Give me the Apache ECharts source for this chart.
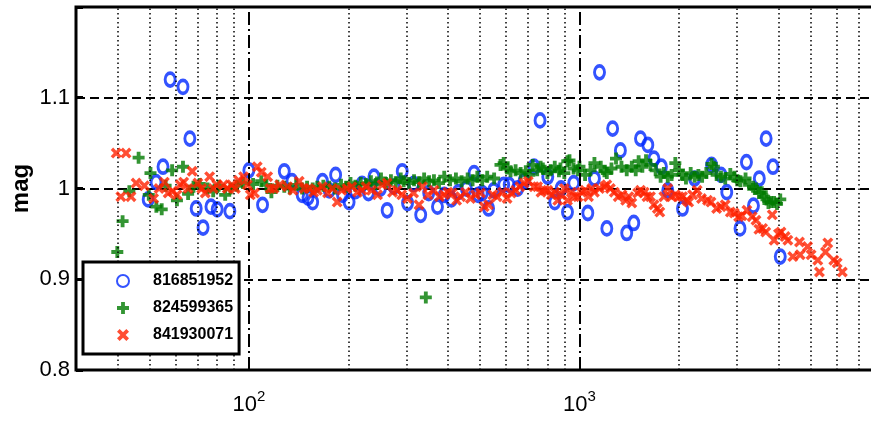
<!DOCTYPE html>
<html>
<head>
<meta charset="utf-8">
<script src="https://cdn.jsdelivr.net/npm/echarts@6/dist/echarts.min.js"></script>
<style>
html,body{margin:0;padding:0;overflow:hidden;background:#fff;}
#c{width:880px;height:422px;}
</style>
</head>
<body>
<div id="c"></div>
<script>
// ---- data ----
const seriesNames = ['816851952', '824599365', '841930071'];

const blueX = [49.6, 52.4, 55, 57.8, 63.2, 66.3, 69.3, 72.7, 76.8, 80.2, 87.6, 100, 110, 128, 135, 145, 151, 156, 167, 175, 183, 192, 201, 210, 220, 230, 239, 250, 262, 275, 291, 302, 315, 331, 350, 372, 390, 410, 430, 455, 480, 494, 508, 531, 550, 590, 613, 650, 680, 729, 760, 802, 842, 880, 920, 961, 1060, 1110, 1150, 1210, 1260, 1330, 1390, 1460, 1530, 1610, 1680, 1770, 1850, 2050, 2230, 2510, 2680, 2790, 3060, 3200, 3360, 3500, 3670, 3850, 4050];
const blueY = [0.988, 1.007, 1.024, 1.120, 1.112, 1.055, 0.978, 0.957, 0.980, 0.977, 0.975, 1.020, 0.982, 1.019, 1.008, 0.993, 0.990, 0.985, 1.008, 0.998, 1.015, 0.993, 0.985, 0.997, 1.005, 0.995, 1.013, 1.000, 0.976, 1.002, 1.019, 0.984, 1.005, 0.971, 0.995, 0.980, 0.993, 0.988, 0.996, 1.000, 1.017, 0.993, 0.995, 0.978, 0.998, 1.004, 1.004, 1.000, 1.008, 1.024, 1.075, 1.013, 0.985, 1.000, 0.974, 1.006, 0.973, 1.011, 1.128, 0.956, 1.066, 1.042, 0.951, 0.962, 1.055, 1.048, 1.033, 1.024, 0.998, 0.978, 1.011, 1.026, 1.015, 0.996, 0.956, 1.029, 0.981, 1.011, 1.055, 1.024, 0.925];

const greenX = [40, 41.5, 43.5, 46.4, 49.8, 50.4, 52.5, 54.5, 56, 58.6, 60.6, 63.2, 65.5, 68, 71, 75, 78, 81, 84.8, 88, 92, 96, 103, 109, 113, 117, 122, 128, 133, 139, 145, 150, 156, 161, 168, 175, 182, 190, 197, 203, 210, 218, 226, 234, 242, 251, 260, 269, 278, 288, 294, 305, 316, 327, 339, 343, 351, 363, 376, 390, 406, 423, 440, 459, 475, 491, 508, 526, 552, 577, 590, 604, 619, 641, 664, 688, 705, 722, 745, 763, 775, 800, 818, 842, 867, 876, 900, 919, 933, 960, 990, 1000, 1040, 1080, 1110, 1160, 1190, 1210, 1250, 1290, 1340, 1390, 1440, 1480, 1510, 1550, 1590, 1640, 1700, 1760, 1800, 1850, 1900, 1950, 2000, 2050, 2100, 2170, 2230, 2290, 2350, 2420, 2510, 2550, 2600, 2680, 2760, 2860, 2940, 3000, 3070, 3180, 3260, 3350, 3420, 3490, 3560, 3620, 3680, 3730, 3800, 3880, 3960, 4050];
const greenY = [0.930, 0.964, 0.997, 1.034, 0.993, 1.017, 0.980, 0.977, 1.003, 1.020, 0.987, 1.024, 0.994, 1.002, 1.005, 1.000, 0.997, 1.003, 0.993, 1.000, 1.003, 1.006, 1.005, 1.008, 1.004, 0.996, 1.003, 1.002, 1.000, 1.004, 1.000, 1.002, 1.000, 1.002, 1.003, 1.002, 1.000, 1.004, 1.002, 1.006, 1.003, 1.006, 1.005, 1.008, 1.005, 1.011, 1.006, 1.009, 1.007, 1.011, 1.008, 1.006, 1.009, 1.007, 1.011, 0.880, 1.008, 1.009, 1.006, 1.013, 1.009, 1.011, 1.008, 1.011, 1.009, 1.013, 1.009, 1.013, 1.011, 1.026, 1.028, 1.022, 1.019, 1.020, 1.017, 1.019, 1.015, 1.026, 1.020, 1.024, 1.022, 1.017, 1.020, 1.024, 1.019, 1.022, 1.017, 1.030, 1.031, 1.022, 1.020, 1.024, 1.015, 1.020, 1.028, 1.024, 1.019, 1.017, 1.022, 1.033, 1.024, 1.020, 1.024, 1.020, 1.030, 1.024, 1.031, 1.026, 1.020, 1.013, 1.017, 1.013, 1.015, 1.028, 1.020, 1.015, 1.011, 1.017, 1.013, 1.015, 1.013, 1.017, 1.027, 1.024, 1.015, 1.013, 1.011, 1.016, 1.013, 1.009, 1.008, 1.011, 1.004, 1.002, 1.000, 0.995, 0.996, 0.991, 0.988, 0.984, 0.985, 0.985, 0.983, 0.988];

const redX = [39.7, 41, 42.5, 44, 45.6, 48.3, 51.5, 53.5, 55.5, 57, 58.7, 60.6, 62, 63.5, 65.5, 67.4, 70.1, 72, 73.8, 76.1, 78, 80, 83.8, 86, 88.8, 91, 93.1, 96.4, 99, 101, 104, 106, 109, 114, 116, 119, 124, 131, 136, 142, 147, 152, 157, 161, 167, 173, 179, 185, 191, 198, 205, 213, 220, 226, 235, 245, 253, 262, 272, 281, 290, 302, 315, 327, 335, 348, 363, 377, 390, 400, 412, 425, 437, 452, 468, 485, 502, 515, 531, 547, 563, 585, 604, 622, 641, 660, 680, 700, 729, 747, 765, 783, 802, 822, 842, 860, 880, 900, 920, 945, 966, 990, 1015, 1040, 1065, 1090, 1110, 1150, 1190, 1210, 1240, 1275, 1310, 1345, 1380, 1410, 1440, 1500, 1530, 1570, 1600, 1640, 1680, 1720, 1750, 1800, 1850, 1900, 1950, 2000, 2050, 2110, 2140, 2200, 2270, 2340, 2440, 2500, 2600, 2680, 2760, 2860, 2940, 3030, 3100, 3210, 3330, 3420, 3490, 3580, 3660, 3830, 3880, 4000, 4070, 4190, 4270, 4420, 4630, 4650, 4900, 5020, 5260, 5320, 5550, 5640, 5880, 6020, 6240];
const redY = [1.039, 0.991, 1.039, 0.991, 1.006, 1.003, 0.989, 1.000, 1.007, 0.995, 0.997, 0.993, 1.004, 1.007, 1.000, 1.019, 1.006, 1.000, 0.995, 1.013, 1.000, 1.004, 1.004, 1.000, 1.004, 1.000, 1.009, 1.013, 1.004, 0.993, 0.995, 1.024, 1.018, 1.013, 1.000, 1.000, 1.004, 1.002, 0.998, 1.008, 1.000, 1.000, 0.996, 0.998, 1.002, 0.995, 1.000, 0.985, 0.998, 1.000, 1.002, 0.996, 0.998, 1.002, 0.998, 0.993, 1.004, 1.006, 0.996, 0.998, 0.993, 0.989, 0.995, 0.982, 1.002, 0.993, 0.998, 0.991, 0.993, 0.996, 0.995, 0.987, 0.991, 0.996, 0.989, 0.993, 0.995, 0.980, 0.982, 0.993, 0.991, 0.996, 0.989, 0.995, 0.998, 1.002, 1.006, 1.008, 1.002, 1.002, 0.996, 0.998, 0.998, 0.993, 0.996, 0.987, 0.993, 1.000, 0.987, 0.996, 0.991, 0.991, 0.996, 0.998, 0.991, 1.000, 0.996, 1.000, 1.002, 1.004, 1.000, 0.996, 0.991, 0.993, 0.987, 0.991, 0.984, 0.995, 0.998, 0.996, 0.991, 0.991, 0.982, 0.978, 0.974, 0.991, 1.000, 0.991, 0.993, 0.991, 0.991, 0.987, 0.985, 0.993, 0.998, 0.989, 0.987, 0.985, 0.978, 0.980, 0.982, 0.974, 0.973, 0.969, 0.970, 0.976, 0.969, 0.965, 0.955, 0.956, 0.952, 0.971, 0.943, 0.950, 0.952, 0.947, 0.943, 0.925, 0.941, 0.927, 0.936, 0.927, 0.921, 0.908, 0.930, 0.940, 0.921, 0.918, 0.908];

const xMin = 30, xMax = 8000;
const yMin = 0.8, yMax = 1.2, yStep = 0.1;
const xMajorGrid = [100, 1000];
const xMinorGrid = [40, 50, 60, 70, 80, 90, 200, 300, 400, 500, 600, 700, 800, 900, 2000, 3000, 4000, 5000, 6000, 7000];

// ---- chart ----
const FONT = "'Liberation Sans', Arial, Helvetica, sans-serif";
const pairs = (xs, ys) => xs.map((x, i) => [x, ys[i]]);
const plusPath = 'path://M3.4,0H6.6V3.4H10V6.6H6.6V10H3.4V6.6H0V3.4H3.4Z';
const crossPath = 'path://M0,2.2L2.2,0L5,2.8L7.8,0L10,2.2L7.2,5L10,7.8L7.8,10L5,7.2L2.2,10L0,7.8L2.8,5Z';

const gridLines = [];
xMajorGrid.forEach(v => gridLines.push({xAxis: v, lineStyle: {type: [13, 4, 2, 4], width: 2, color: '#000'}}));
xMinorGrid.forEach(v => gridLines.push({xAxis: v, lineStyle: {type: [1.5, 3], width: 1.5, color: '#000'}}));

const chart = echarts.init(document.getElementById('c'), null, {renderer: 'canvas'});
chart.setOption({
  animation: false,
  backgroundColor: '#fff',
  grid: {left: 76, top: 7, right: 2, bottom: 52, show: true, borderColor: '#000', borderWidth: 3,
         backgroundColor: 'transparent', containLabel: false, outerBoundsMode: 'none'},
  xAxis: {
    type: 'log', logBase: 10, min: xMin, max: xMax,
    axisLine: {show: false},
    axisTick: {show: true, inside: true, length: 7, lineStyle: {color: '#000', width: 2}},
    splitLine: {show: false},
    minorTick: {show: false},
    axisLabel: {
      margin: 19,
      color: '#000',
      fontFamily: FONT,
      formatter: function (v) {
        const l = Math.log10(v);
        const e = Math.round(l);
        if (Math.abs(l - e) < 1e-6 && v > xMin && v < xMax) return '{b|10}{s|' + e + '}';
        return '';
      },
      rich: {
        b: {fontSize: 22, fontFamily: FONT, color: '#000'},
        s: {fontSize: 15, fontFamily: FONT, color: '#000', padding: [0, 0, 16, 0]}
      }
    }
  },
  yAxis: {
    type: 'value', min: yMin, max: yMax, interval: yStep,
    name: 'mag', nameLocation: 'middle', nameGap: 43, nameMoveOverlap: false,
    nameTextStyle: {fontSize: 24, fontWeight: 'bold', fontFamily: FONT, color: '#000'},
    axisLine: {show: false},
    axisTick: {show: true, inside: true, length: 7, lineStyle: {color: '#000', width: 3}},
    splitLine: {show: true, lineStyle: {type: [9, 5], width: 2, color: '#000'}},
    axisLabel: {
      margin: 6, fontSize: 22, fontFamily: FONT, color: '#000',
      formatter: v => (v > yMax - 0.05 ? '' : String(parseFloat(v.toFixed(2))))
    }
  },
  legend: {
    data: seriesNames,
    orient: 'vertical', left: 83, top: 262,
    padding: [11, 6, 11, 33],
    itemGap: 11, itemWidth: 12, itemHeight: 14,
    borderColor: '#000', borderWidth: 3, backgroundColor: '#fff',
    textStyle: {fontSize: 16, fontWeight: 'bold', fontFamily: FONT, color: '#000', padding: [0, 0, 0, 19]},
    z: 10
  },
  series: [
    {
      name: 'grid', type: 'scatter', data: [], z: 1, silent: true,
      markLine: {silent: true, symbol: 'none', label: {show: false}, animation: false, data: gridLines}
    },
    {
      name: seriesNames[0], type: 'scatter', z: 3,
      symbol: 'circle', symbolSize: [10, 13],
      itemStyle: {color: 'rgba(0,0,0,0)', borderColor: '#0028ff', borderWidth: 3.3},
      data: pairs(blueX, blueY)
    },
    {
      name: seriesNames[1], type: 'scatter', z: 4,
      symbol: plusPath, symbolSize: 12,
      itemStyle: {color: '#007a00'},
      data: pairs(greenX, greenY)
    },
    {
      name: seriesNames[2], type: 'scatter', z: 5,
      symbol: crossPath, symbolSize: 11,
      itemStyle: {color: '#ff2200'},
      data: pairs(redX, redY)
    }
  ]
});
</script>
</body>
</html>
